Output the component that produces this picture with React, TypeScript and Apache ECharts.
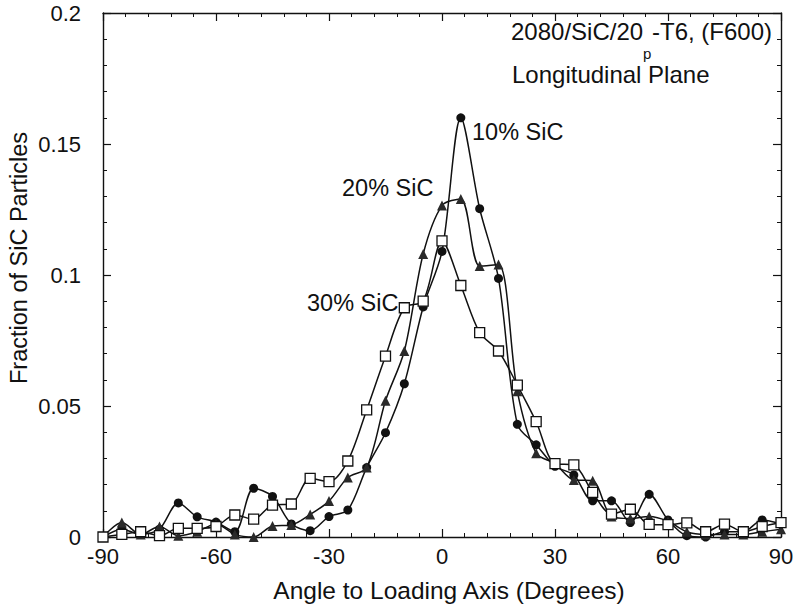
import React, { useEffect, useRef } from 'react';
import * as echarts from 'echarts';

const angles = [-90, -85, -80, -75, -70, -65, -60, -55, -50, -45, -40, -35, -30, -25, -20, -15, -10, -5, 0, 5, 10, 15, 20, 25, 30, 35, 40, 45, 50, 55, 60, 65, 70, 75, 80, 85, 90];

const sic10 = [0.0, 0.003, 0.001, 0.003, 0.013, 0.0077, 0.0057, 0.002, 0.0186, 0.0155, 0.005, 0.0024, 0.0078, 0.0103, 0.0265, 0.0398, 0.0585, 0.0878, 0.109, 0.160, 0.1253, 0.0987, 0.043, 0.0352, 0.027, 0.0237, 0.0138, 0.0138, 0.0055, 0.0163, 0.0065, 0.0005, 0.0, 0.002, 0.002, 0.0065, 0.005];

const sic20 = [0.0, 0.0055, 0.001, 0.004, 0.0005, 0.002, 0.005, 0.001, 0.0, 0.0042, 0.0046, 0.0086, 0.0137, 0.0227, 0.0265, 0.052, 0.071, 0.108, 0.1265, 0.129, 0.1034, 0.104, 0.0556, 0.032, 0.028, 0.0218, 0.0215, 0.0078, 0.0071, 0.0078, 0.006, 0.002, 0.001, 0.001, 0.001, 0.002, 0.003];

const sic30 = [0.0, 0.001, 0.002, 0.0005, 0.0033, 0.0033, 0.004, 0.0084, 0.0068, 0.0122, 0.0126, 0.0224, 0.0211, 0.029, 0.0485, 0.069, 0.0875, 0.090, 0.113, 0.096, 0.078, 0.071, 0.058, 0.044, 0.028, 0.0275, 0.017, 0.0087, 0.0106, 0.0048, 0.0047, 0.0054, 0.002, 0.0049, 0.002, 0.004, 0.0055];

const seriesNames = ['10% SiC', '20% SiC', '30% SiC'];
const xName = 'Angle to Loading Axis (Degrees)';
const yName = 'Fraction of SiC Particles';
const titleMain = '2080/SiC/20';
const titleSub = 'p';
const titleTail = '-T6, (F600)';
const titleLine2 = 'Longitudinal Plane';

const FONT = '"Liberation Sans", Arial, sans-serif';
const INK = '#111';

export default function App() {
  const ref = useRef<HTMLDivElement>(null);
  useEffect(() => {
    document.body.style.margin = '0';
    const chart = echarts.init(ref.current!, null, { renderer: 'svg' });
    const pts = (v: number[]) => angles.map((a, i) => [a, v[i]]);
    const line = { lineStyle: { color: INK, width: 1.4 } };
    const tick = { inside: true, length: 8, lineStyle: { color: INK, width: 1.2 } };
    const minor = { show: true, splitNumber: 5, length: 4, lineStyle: { color: INK, width: 1 } };
    const label = { color: INK, fontSize: 22, fontFamily: FONT };
    const txt = (text: string, left: number, top: number, size = 24) => ({
      type: 'text', left, top, style: { text, fontSize: size, fontFamily: FONT, fill: INK },
    });
    chart.setOption({
      animation: false,
      backgroundColor: '#fff',
      grid: { left: 103, right: 18, top: 13, bottom: 73 },
      xAxis: [
        {
          type: 'value', min: -90, max: 90, interval: 30, position: 'bottom',
          axisLine: { show: true, onZero: false, ...line }, axisTick: tick, minorTick: minor,
          splitLine: { show: false }, axisLabel: { ...label, margin: 8 },
          name: xName, nameLocation: 'middle', nameGap: 41,
          nameTextStyle: { color: INK, fontSize: 24.5, fontFamily: FONT, padding: [0, 0, 0, 14] },
        },
        {
          type: 'value', min: -90, max: 90, interval: 30, position: 'top',
          axisLine: { show: true, onZero: false, ...line }, axisTick: tick, minorTick: minor,
          splitLine: { show: false }, axisLabel: { show: false },
        },
      ],
      yAxis: [
        {
          type: 'value', min: 0, max: 0.2, interval: 0.05, position: 'left',
          axisLine: { show: true, onZero: false, ...line }, axisTick: tick, minorTick: minor,
          splitLine: { show: false }, axisLabel: { ...label, margin: 22 },
        },
        {
          type: 'value', min: 0, max: 0.2, interval: 0.05, position: 'right',
          axisLine: { show: true, onZero: false, ...line }, axisTick: tick, minorTick: minor,
          splitLine: { show: false }, axisLabel: { show: false },
        },
      ],
      series: [
        {
          name: seriesNames[0], type: 'line', data: pts(sic10), smooth: 0.3,
          symbol: 'circle', symbolSize: 9, showAllSymbol: true,
          itemStyle: { color: INK }, lineStyle: { color: INK, width: 1.5 }, z: 2,
        },
        {
          name: seriesNames[1], type: 'line', data: pts(sic20), smooth: 0.3,
          symbol: 'triangle', symbolSize: 10, showAllSymbol: true,
          itemStyle: { color: '#2a2a2a' }, lineStyle: { color: INK, width: 1.5 }, z: 3,
        },
        {
          name: seriesNames[2], type: 'line', data: pts(sic30), smooth: 0.3,
          symbol: 'rect', symbolSize: 10, showAllSymbol: true,
          itemStyle: { color: '#fff', borderColor: INK, borderWidth: 1.3 },
          lineStyle: { color: INK, width: 1.5 }, z: 4,
        },
      ],
      graphic: [
        txt(seriesNames[0], 472, 120, 23.5),
        txt(seriesNames[1], 342, 176, 23.5),
        txt(seriesNames[2], 307, 291, 23.5),
        txt(titleMain, 511, 19),
        txt(titleSub, 643, 46, 15),
        txt(titleTail, 652, 19),
        txt(titleLine2, 512, 62),
        {
          type: 'text', x: 19, y: 258, rotation: Math.PI / 2,
          style: { text: yName, fontSize: 23.5, fontFamily: FONT, fill: INK, align: 'center', verticalAlign: 'middle' },
        },
      ],
    });
    return () => chart.dispose();
  }, []);
  return <div ref={ref} style={{ width: 799, height: 610 }} />;
}
